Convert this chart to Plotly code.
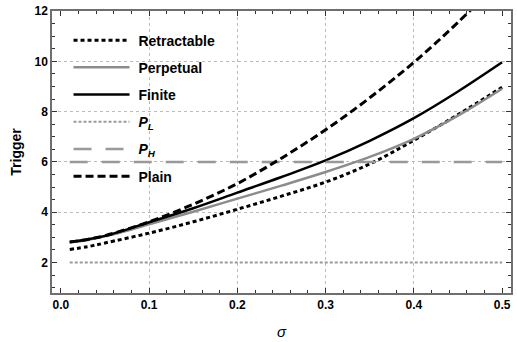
import plotly.graph_objects as go

sigma = [0.01, 0.03, 0.05, 0.1, 0.15, 0.2, 0.25, 0.3, 0.35, 0.4, 0.45, 0.5]
retractable = [2.52, 2.63, 2.78, 3.17, 3.62, 4.12, 4.64, 5.2, 5.92, 6.86, 7.88, 8.97]
perpetual = [2.80, 2.90, 3.04, 3.52, 4.02, 4.54, 5.06, 5.6, 6.2, 6.92, 7.84, 8.91]
finite = [2.82, 2.92, 3.06, 3.6, 4.16, 4.78, 5.40, 6.06, 6.84, 7.74, 8.8, 9.96]
plain = [2.82, 2.92, 3.07, 3.62, 4.32, 5.14, 6.15, 7.28, 8.55, 9.96, 11.55, 13.3]
p_l = [2.0] * len(sigma)
p_h = [6.0] * len(sigma)

names = [" Retractable", " Perpetual", " Finite",
         " <i>P</i><sub><i>L</i></sub>", " <i>P</i><sub><i>H</i></sub>", " Plain"]
series = [retractable, perpetual, finite, p_l, p_h, plain]
styles = [
    dict(color="black", width=3, dash="4px,3px"),
    dict(color="#8c8c8c", width=2.5, dash="solid"),
    dict(color="black", width=2.5, dash="solid"),
    dict(color="#999999", width=2, dash="3px,2px"),
    dict(color="#999999", width=2.5, dash="18px,14px"),
    dict(color="black", width=3, dash="8px,4px"),
]
shapes_mode = ["spline", "spline", "spline", "linear", "linear", "spline"]

fig = go.Figure()
# invisible trace on overlay axes to drive the dotted grid
fig.add_trace(go.Scatter(x=[0.0, 0.5], y=[1, 12], xaxis="x2", yaxis="y2",
                         mode="markers", marker=dict(opacity=0), showlegend=False,
                         hoverinfo="skip"))
for i, (nm, ys, st, sh) in enumerate(zip(names, series, styles, shapes_mode)):
    fig.add_trace(go.Scatter(x=sigma, y=ys, mode="lines", name=nm,
                             line=dict(shape=sh, **st), legendgroup=str(i)))

font = "Liberation Sans, Arial, sans-serif"
xr = [-0.0101, 0.5101]
yr = [0.79, 12.0]
fig.update_layout(
    width=517, height=342,
    margin=dict(l=52, r=4, t=10, b=47),
    plot_bgcolor="white", paper_bgcolor="white",
    font=dict(family=font, size=12, color="black"),
    showlegend=True,
    legend=dict(x=0.036, y=0.952, xanchor="left", yanchor="top",
                bgcolor="rgba(0,0,0,0)", font=dict(size=14, family=font, weight="bold"),
                itemwidth=56, tracegroupgap=6, traceorder="grouped"),
    xaxis=dict(range=xr, showgrid=False, zeroline=False,
               tick0=0, dtick=0.1, tickformat=".1f",
               tickfont=dict(size=12, weight="bold"),
               ticks="inside", ticklen=5, tickwidth=1, tickcolor="#333",
               minor=dict(dtick=0.02, tick0=0, ticks="inside", ticklen=3, tickcolor="#333", showgrid=False),
               showline=True, linecolor="#6f6f6f", linewidth=1.5, mirror="ticks",
               title=dict(text="<i>σ</i>", font=dict(size=15), standoff=15)),
    yaxis=dict(range=yr, showgrid=False, zeroline=False,
               tick0=0, dtick=2,
               tickfont=dict(size=12, weight="bold"),
               ticks="inside", ticklen=5, tickwidth=1, tickcolor="#333",
               minor=dict(dtick=0.5, tick0=0, ticks="inside", ticklen=3, tickcolor="#333", showgrid=False),
               showline=True, linecolor="#6f6f6f", linewidth=1.5, mirror="ticks",
               title=dict(text="Trigger", font=dict(size=14, weight="bold"), standoff=10)),
    xaxis2=dict(range=xr, overlaying="x", showgrid=True, gridcolor="#bbbbbb", griddash="dot",
                gridwidth=1, tickvals=[0.1, 0.2, 0.3, 0.4], showticklabels=False,
                ticks="", zeroline=False, showline=False),
    yaxis2=dict(range=yr, overlaying="y", showgrid=True, gridcolor="#bbbbbb", griddash="dot",
                gridwidth=1, tickvals=[4, 6, 8, 10], showticklabels=False,
                ticks="", zeroline=False, showline=False),
)
fig.write_html("out.html")
